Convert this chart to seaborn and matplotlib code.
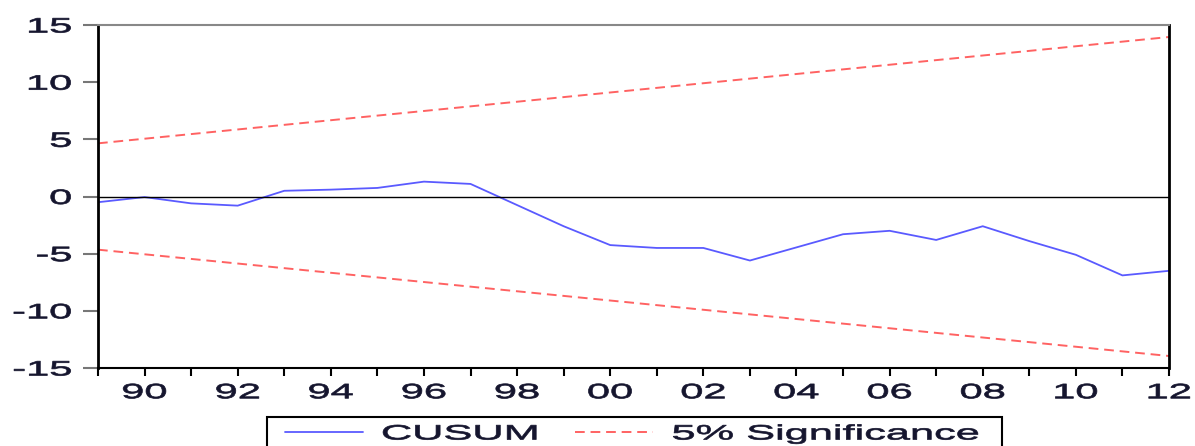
# CUSUM stability test chart (EViews style)

import pandas as pd
import matplotlib
matplotlib.use("Agg")
import matplotlib.pyplot as plt
import seaborn as sns
from matplotlib.patches import Rectangle
from matplotlib.patheffects import AbstractPathEffect
from matplotlib.transforms import Affine2D

years = list(range(1989, 2013))
cusum = [-0.5, -0.05, -0.6, -0.8, 0.5, 0.6, 0.75, 1.3, 1.1, -0.75,
         -2.6, -4.25, -4.5, -4.5, -5.6, -4.45, -3.3, -3.0, -3.8, -2.6,
         -3.9, -5.1, -6.9, -6.5]
bound_years = [1989, 2012]
upper = [4.65, 13.95]
lower = [-4.65, -13.95]
ytick_vals = [15, 10, 5, 0, -5, -10, -15]
xtick_labels = ["90", "92", "94", "96", "98", "00", "02", "04", "06", "08", "10", "12"]


# the original screenshot is stretched sideways, so widen the glyphs the same way
class Stretch(AbstractPathEffect):
    def __init__(self, sx=2.0, anchor="center", bold=0.5):
        super().__init__()
        self.sx = sx
        self.anchor = anchor
        self.bold = bold

    def draw_path(self, renderer, gc, tpath, affine, rgbFace=None):
        ext = tpath.get_extents()
        x0 = {"left": ext.x0, "right": ext.x1, "center": (ext.x0 + ext.x1) / 2}[self.anchor]
        t = Affine2D().translate(-x0, 0).scale(self.sx, 1).translate(x0, 0) + affine
        gc0 = renderer.new_gc()
        gc0.copy_properties(gc)
        gc0.set_linewidth(self.bold)
        if rgbFace is not None:
            gc0.set_foreground(rgbFace)
        renderer.draw_path(gc0, tpath, t, rgbFace)
        gc0.restore()


sns.set_style("white")
plt.rcParams['font.family'] = ['Liberation Sans', 'DejaVu Sans']
plt.rcParams['axes.unicode_minus'] = False

blue = "#5a5aff"
red = "#ff6262"
txt = "#15152e"

W, H = 1195, 446
fig = plt.figure(figsize=(W / 100, H / 100), dpi=100)
ax = fig.add_axes([98 / W, 1 - 368 / H, (1169 - 98) / W, (368 - 25) / H])

df = pd.DataFrame({"year": years, "cusum": cusum})
bounds = pd.DataFrame({"year": bound_years, "upper": upper, "lower": lower})

sns.lineplot(data=df, x="year", y="cusum", ax=ax, color=blue, lw=1.3, label="CUSUM")
sns.lineplot(data=bounds, x="year", y="upper", ax=ax, color=red, lw=1.4,
             linestyle=(0, (5, 3)), label="5% Significance")
sns.lineplot(data=bounds, x="year", y="lower", ax=ax, color=red, lw=1.4,
             linestyle=(0, (5, 3)), legend=False)
ax.axhline(0, color="black", lw=1.0)

ax.set_xlim(1989, 2012)
ax.set_ylim(-15, 15)
ax.set_xticks(years, minor=True)
ax.set_xticks(list(range(1990, 2013, 2)))
ax.set_xticklabels(xtick_labels)
ax.set_yticks(ytick_vals)
ax.set_yticklabels([str(v) for v in ytick_vals])
ax.set_xlabel("")
ax.set_ylabel("")

ax.tick_params(axis="y", length=11, width=1.5, color="#777777", pad=8,
               labelsize=15, labelcolor=txt, direction="out", left=True)
ax.tick_params(axis="x", which="both", length=6, width=1.5, color="black",
               pad=5, labelsize=15, labelcolor=txt, direction="out", bottom=True)
ax.tick_params(axis="x", which="minor", labelbottom=False)

for lbl in ax.get_xticklabels():
    lbl.set_path_effects([Stretch(2.0, "center")])
for lbl in ax.get_yticklabels():
    lbl.set_path_effects([Stretch(2.0, "right")])

for side in ["left", "right"]:
    ax.spines[side].set_color("black")
    ax.spines[side].set_linewidth(2)
ax.spines["bottom"].set_color("black")
ax.spines["bottom"].set_linewidth(1.5)
ax.spines["top"].set_color("#888888")
ax.spines["top"].set_linewidth(1.5)

# legend: handles and labels from seaborn, frame drawn separately so it fits the wide text
ax.get_legend().remove()
handles, labels = ax.get_legend_handles_labels()
fs = 15 * 100 / 72
leg = fig.legend(handles[:2], labels[:2], loc="center left",
                 bbox_to_anchor=(285 / W, 1 - 434 / H), ncol=2,
                 fontsize=15, frameon=False, borderpad=0, borderaxespad=0,
                 handlelength=78 / fs, handletextpad=19 / fs,
                 columnspacing=5.6)
for t in leg.get_texts():
    t.set_color(txt)
    t.set_path_effects([Stretch(2.08, "left")])

fig.patches.append(Rectangle((267 / W, -0.05), (1002 - 267) / W, 1.05 - 417 / H,
                             transform=fig.transFigure, fill=False,
                             edgecolor="black", lw=1.5))

fig.savefig("out.png", dpi=100)
